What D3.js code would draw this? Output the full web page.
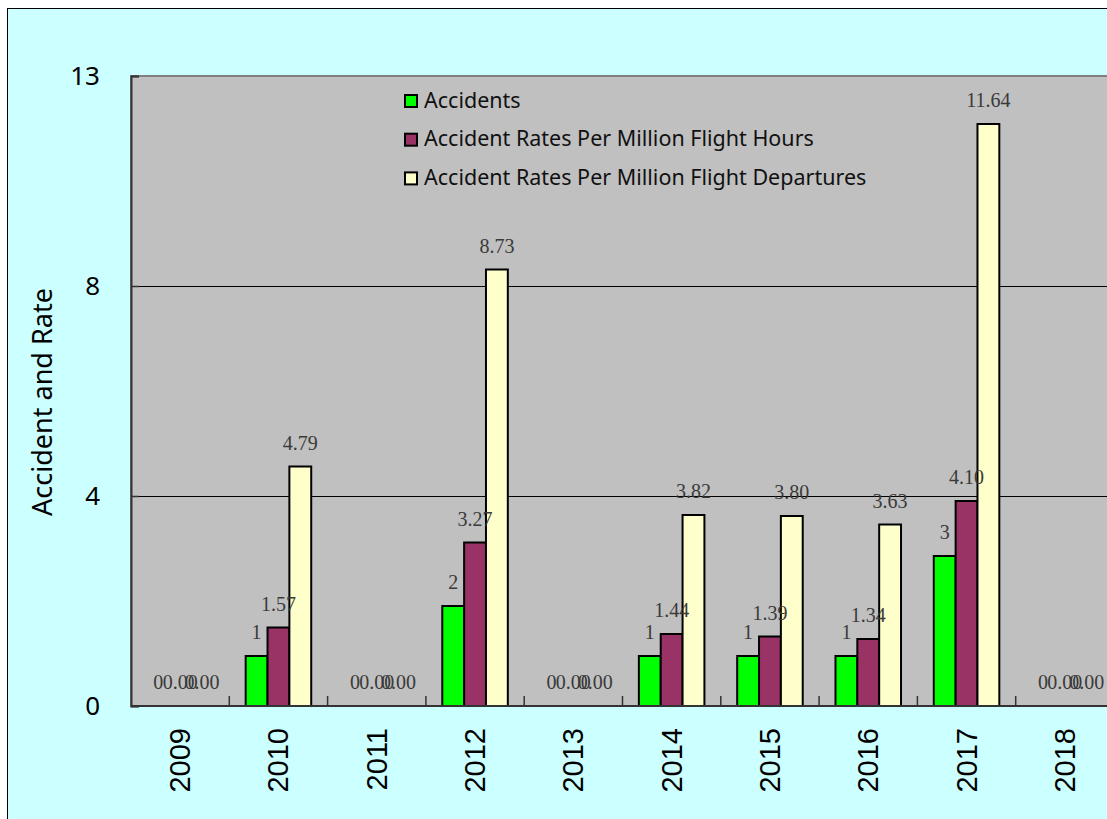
<!DOCTYPE html>
<html>
<head>
<meta charset="utf-8">
<script src="https://cdn.jsdelivr.net/npm/d3@7"></script>
<style>
  html, body { margin: 0; padding: 0; background: #fff; }
  svg { display: block; }
</style>
</head>
<body>
<div id="vis"></div>
<script>
// values
const years = ["2009", "2010", "2011", "2012", "2013", "2014", "2015", "2016", "2017", "2018"];
const accidents = [0, 1, 0, 2, 0, 1, 1, 1, 3, 0];
const ratePerHours = [0, 1.57, 0, 3.27, 0, 1.44, 1.39, 1.34, 4.10, 0];
const ratePerDepartures = [0, 4.79, 0, 8.73, 0, 3.82, 3.80, 3.63, 11.64, 0];
const seriesNames = ["Accidents", "Accident Rates Per Million Flight Hours", "Accident Rates Per Million Flight Departures"];
const seriesColors = ["#00ff00", "#993366", "#ffffcc"];
const yTicks = [0, 4.2, 8.4, 12.6];

const width = 1107;
const height = 819;
const margin = { top: 76, left: 131, bottom: 113 };
const plotRight = 1114; // plot area runs past the window edge

const series = [accidents, ratePerHours, ratePerDepartures];
const fmt = [d3.format("d"), d3.format(".2f"), d3.format(".2f")];

const svg = d3.select("#vis").append("svg")
  .attr("width", width)
  .attr("height", height);

// chart area background + border (only top/left visible)
svg.append("rect")
  .attr("x", 7.5).attr("y", 8.5)
  .attr("width", width + 20).attr("height", height + 20)
  .attr("fill", "#ccffff")
  .attr("stroke", "#000")
  .attr("stroke-width", 1);

const x = d3.scaleBand()
  .domain(years)
  .range([margin.left, plotRight])
  .padding(0);

// 3 bars per year, gap of 1.5 bar widths split on both sides
const xSub = d3.scaleBand()
  .domain(d3.range(series.length))
  .range([0, x.bandwidth()])
  .paddingInner(0)
  .paddingOuter(0.75);

const y = d3.scaleLinear()
  .domain([0, 12.6])
  .range([height - margin.bottom, margin.top]);

// plot area
svg.append("rect")
  .attr("x", margin.left).attr("y", y(12.6))
  .attr("width", plotRight - margin.left)
  .attr("height", y(0) - y(12.6))
  .attr("fill", "#c0c0c0")
  .attr("stroke", "#808080")
  .attr("stroke-width", 2);

// gridlines
svg.append("g")
  .selectAll("line")
  .data(yTicks.filter(t => t > 0 && t < 12.6))
  .join("line")
  .attr("x1", margin.left).attr("x2", plotRight)
  .attr("y1", d => Math.round(y(d)) + 0.5).attr("y2", d => Math.round(y(d)) + 0.5)
  .attr("stroke", "#000")
  .attr("stroke-width", 1);

// y axis (ticks point inward)
const yAxis = svg.append("g")
  .attr("transform", `translate(${margin.left},0)`)
  .call(d3.axisRight(y).tickValues(yTicks).tickSize(8).tickFormat(""));
yAxis.select(".domain").attr("stroke", "#333").attr("stroke-width", 2);
yAxis.selectAll(".tick line").attr("stroke", "#333").attr("stroke-width", 1.5);

svg.append("g")
  .selectAll("text")
  .data(yTicks)
  .join("text")
  .attr("x", 100)
  .attr("y", d => y(d) - 1)
  .attr("text-anchor", "end")
  .attr("dominant-baseline", "central")
  .attr("font-family", "'Noto Sans', sans-serif")
  .attr("font-size", 26)
  .attr("fill", "#000")
  .text(d3.format(".0f"));

// y axis title
svg.append("text")
  .attr("transform", "translate(41,402) rotate(-90)")
  .attr("text-anchor", "middle")
  .attr("dominant-baseline", "central")
  .attr("font-family", "'Noto Sans', sans-serif")
  .attr("font-size", 27)
  .attr("fill", "#000")
  .text("Accident and Rate");

// bars
const groups = svg.append("g")
  .selectAll("g")
  .data(years)
  .join("g")
  .attr("transform", d => `translate(${x(d)},0)`);

groups.selectAll("rect")
  .data((d, i) => series.map((s, k) => ({ k, v: s[i] })).filter(e => e.v > 0))
  .join("rect")
  .attr("x", d => xSub(d.k))
  .attr("y", d => y(d.v))
  .attr("width", xSub.bandwidth())
  .attr("height", d => y(0) - y(d.v))
  .attr("fill", d => seriesColors[d.k])
  .attr("stroke", "#000")
  .attr("stroke-width", 2);

// value labels (zero labels overlap, as in the original)
groups.selectAll("text")
  .data((d, i) => series.map((s, k) => ({ k, v: s[i] })))
  .join("text")
  .attr("x", d => xSub(d.k) + xSub.bandwidth() / 2)
  .attr("y", d => y(d.v) - 17)
  .attr("text-anchor", "middle")
  .attr("font-family", "'Liberation Serif', serif")
  .attr("font-size", 20)
  .attr("fill", "#3a3a3a")
  .text(d => fmt[d.k](d.v));

// x axis
const xAxis = svg.append("g")
  .attr("transform", `translate(0,${y(0)})`);
xAxis.append("line")
  .attr("x1", margin.left).attr("x2", plotRight)
  .attr("stroke", "#333").attr("stroke-width", 2);
xAxis.selectAll(".tk")
  .data(years.slice(1))
  .join("line")
  .attr("class", "tk")
  .attr("x1", d => x(d)).attr("x2", d => x(d))
  .attr("y1", 0).attr("y2", -10)
  .attr("stroke", "#333").attr("stroke-width", 1.5);
xAxis.selectAll("text")
  .data(years)
  .join("text")
  .attr("transform", d => `translate(${x(d) + x.bandwidth() / 2},22) rotate(-90)`)
  .attr("text-anchor", "end")
  .attr("dominant-baseline", "central")
  .attr("font-family", "'Liberation Sans', Arial, sans-serif")
  .attr("font-size", 29)
  .attr("fill", "#000")
  .text(d => d);

// legend
const legend = svg.append("g")
  .attr("transform", "translate(405,101)");
const items = legend.selectAll("g")
  .data(seriesNames)
  .join("g")
  .attr("transform", (d, i) => `translate(0,${i * 38.7})`);
items.append("rect")
  .attr("x", 0).attr("y", -6)
  .attr("width", 12).attr("height", 12)
  .attr("fill", (d, i) => seriesColors[i])
  .attr("stroke", "#000")
  .attr("stroke-width", 2);
items.append("text")
  .attr("x", 19)
  .attr("y", -2)
  .attr("dominant-baseline", "central")
  .attr("font-family", "'Noto Sans', sans-serif")
  .attr("font-size", 21.5)
  .attr("fill", "#111")
  .text(d => d);
</script>
</body>
</html>
